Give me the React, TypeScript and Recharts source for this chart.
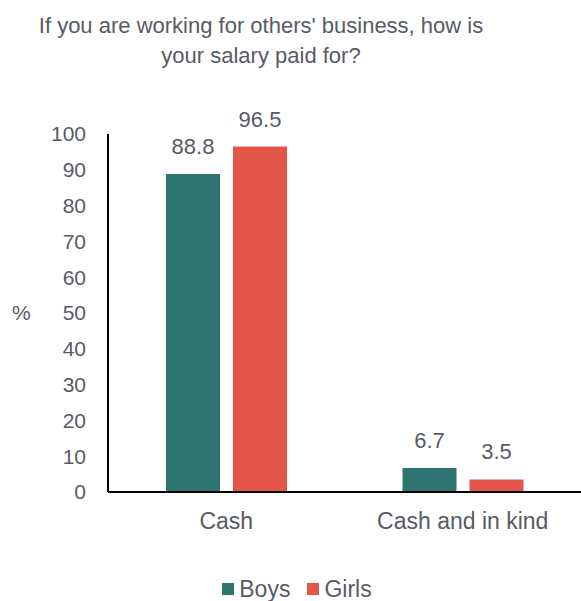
import React from "react";
import { BarChart, Bar, XAxis, YAxis, Legend, LabelList, Label } from "recharts";

const categories = ["Cash", "Cash and in kind"];
const boys = [88.8, 6.7];
const girls = [96.5, 3.5];
const yTicks = [0, 10, 20, 30, 40, 50, 60, 70, 80, 90, 100];
const titleLines = ["If you are working for others' business, how is", "your salary paid for?"];
const seriesNames = ["Boys", "Girls"];

const data = categories.map((c, i) => ({ name: c, Boys: boys[i], Girls: girls[i] }));

const TEXT = "#585b63";
const TEAL = "#2e7470";
const RED = "#e4564a";
const FONT = "'Liberation Sans', Arial, sans-serif";

const renderLegend = () => (
  <div style={{ height: 49, boxSizing: "border-box", paddingTop: 25, paddingLeft: 13, display: "flex", justifyContent: "center", fontFamily: FONT, fontSize: 23, lineHeight: "26px", color: TEXT }}>
    {seriesNames.map((n, i) => (
      <div key={n} style={{ display: "flex", alignItems: "center", marginRight: i === 0 ? 17 : 0 }}>
        <span style={{ display: "inline-block", width: 12, height: 12, background: i === 0 ? TEAL : RED, marginRight: 5 }} />
        <span>{n}</span>
      </div>
    ))}
  </div>
);

export default function App() {
  return (
    <div style={{ position: "absolute", left: 0, top: 0, width: 581, height: 601, background: "#fff" }}>
      <div style={{ position: "absolute", left: 0, top: 11, width: 522, textAlign: "center", fontFamily: FONT, fontSize: 22, lineHeight: "30px", color: TEXT, pointerEvents: "none" }}>
        {titleLines.map((l) => (
          <div key={l}>{l}</div>
        ))}
      </div>
      <BarChart width={581} height={601} data={data} margin={{ top: 134, right: 0, bottom: 0, left: 0 }} barSize={54} barGap={13}>
        <XAxis dataKey="name" height={60} tickLine={false} tickSize={0} tickMargin={21} axisLine={{ stroke: "#000", strokeWidth: 2 }} tick={{ fill: TEXT, fontSize: 23, fontFamily: FONT }} />
        <YAxis width={108} domain={[0, 100]} ticks={yTicks} interval={0} tickLine={false} tickSize={0} tickMargin={22} axisLine={{ stroke: "#000", strokeWidth: 2 }} tick={{ fill: TEXT, fontSize: 21, fontFamily: FONT }}>
          <Label value="%" position="insideLeft" offset={12} style={{ fill: TEXT, fontSize: 21, fontFamily: FONT }} />
        </YAxis>
        <Legend verticalAlign="bottom" content={renderLegend} />
        <Bar dataKey="Boys" fill={TEAL} isAnimationActive={false}>
          <LabelList dataKey="Boys" position="top" offset={20} style={{ fill: TEXT, fontSize: 22, fontFamily: FONT }} />
        </Bar>
        <Bar dataKey="Girls" fill={RED} isAnimationActive={false}>
          <LabelList dataKey="Girls" position="top" offset={20} style={{ fill: TEXT, fontSize: 22, fontFamily: FONT }} />
        </Bar>
      </BarChart>
    </div>
  );
}
